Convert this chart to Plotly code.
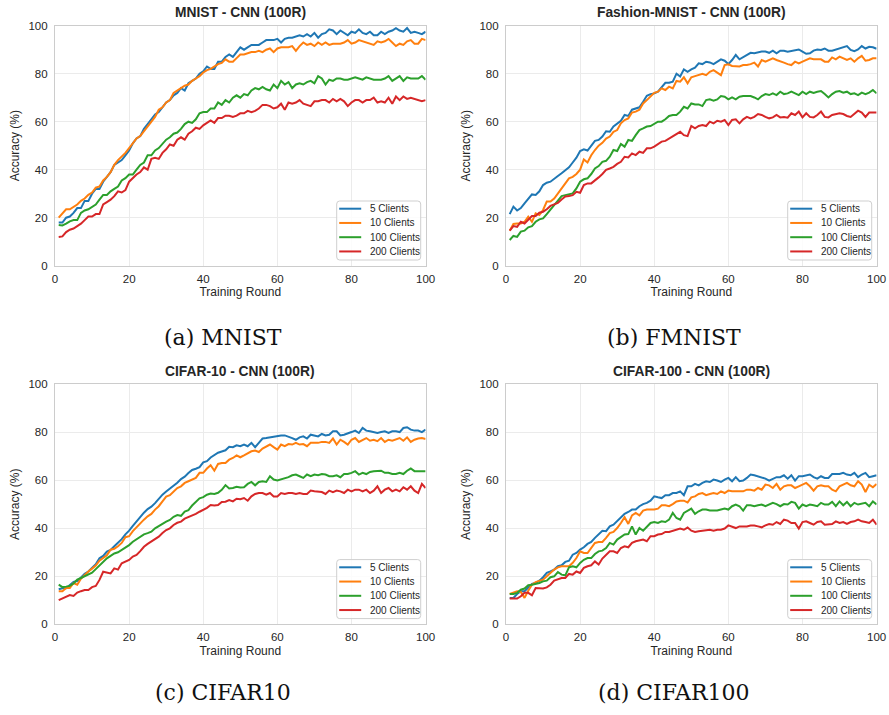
import plotly.graph_objects as go

rounds = list(range(1, 101))
series_names = ["5 Clients", "10 Clients", "100 Clients", "200 Clients"]
colors = ["#1f77b4", "#ff7f0e", "#2ca02c", "#d62728"]
titles = ["MNIST - CNN (100R)", "Fashion-MNIST - CNN (100R)", "CIFAR-10 - CNN (100R)", "CIFAR-100 - CNN (100R)"]
captions = ["(a) MNIST", "(b) FMNIST", "(c) CIFAR10", "(d) CIFAR100"]
tick_vals = [0, 20, 40, 60, 80, 100]
x_label = "Training Round"
y_label = "Accuracy (%)"

# ---------- MNIST ----------
mnist_5 = [18, 18, 20, 20.5, 22, 24, 24, 27, 27, 30, 32, 32, 35, 37, 39, 42, 43, 44, 46, 48,
           51, 53, 54, 57, 59, 61, 63, 64, 66, 68, 69, 71, 72, 74, 73, 76, 77, 78, 80, 81,
           83, 82, 82, 85, 85, 87, 88, 87, 89, 91, 90, 91, 92, 92, 92, 93, 94, 94, 94, 94.5,
           93, 94.5, 95, 95, 95.5, 96, 95.5, 96.5, 95.5, 97, 95, 96.5, 97, 98.5, 98, 96.5, 98, 97, 96, 97.5,
           97, 98.5, 97, 96.5, 97.5, 96, 96, 97.5, 96.5, 97.5, 98, 99, 98, 97.5, 99, 97, 97.5, 97, 96.5, 97.5]
mnist_10 = [20, 22, 23.5, 23.5, 24.5, 25.5, 27, 28, 29.5, 30.5, 32.5, 33, 35.5, 37, 39, 42, 44, 45.5, 47, 49,
            51, 53, 54, 56, 58, 60, 62, 65, 66, 68, 69, 72, 73, 74, 75, 75.5, 77, 78, 79, 80.5,
            81.5, 82, 83, 84, 84.5, 86, 85, 85, 86.5, 88, 88, 88.5, 89, 89, 89.5, 89, 90, 90.5, 89, 90.5,
            91, 91, 91, 91.5, 89.5, 91.5, 93, 92, 92.5, 91.5, 93, 92, 93, 92, 92.5, 92.5, 92.5, 93, 94, 92.5,
            93, 94, 93.5, 93, 92.5, 92, 93.5, 93, 93.5, 94.5, 93, 91.5, 92.5, 92, 93.5, 94, 92.5, 92.5, 94.5, 94]
mnist_100 = [17, 16.8, 17.5, 18.5, 19, 19, 22, 23, 23.5, 24.5, 25.5, 27.5, 29.5, 29.5, 31, 32, 33, 35.5, 36.5, 38,
             38, 40, 42, 43, 46, 46, 48, 49, 51, 52.5, 53.5, 55, 55.5, 57, 59, 60, 59.5, 61, 63.5, 64,
             64, 65.5, 65.5, 68, 67, 69, 68, 70, 71, 70, 71.5, 71, 73, 74, 73.5, 74.5, 73.5, 73, 75.5, 74,
             77, 75.5, 76.5, 74, 75.5, 76, 75.5, 76.5, 77, 76, 79, 78, 75.5, 77.5, 77, 78, 78, 77.5, 77.5, 78,
             78.5, 78, 77.5, 78.5, 78, 77.5, 77.5, 77.5, 78, 79, 77, 78, 79, 77, 78.5, 78, 78, 78, 79, 77.5]
mnist_200 = [12, 12.2, 14, 15, 15.5, 16.5, 17.5, 19, 20.5, 20.5, 21.5, 21.5, 25.5, 26.5, 27.5, 29, 31, 30.5, 31.5, 35,
             36.5, 38, 39, 41, 40, 44.5, 45, 44.5, 47, 48.5, 50.5, 50, 52.5, 53.5, 52.5, 55, 56, 57.5, 57, 58.5,
             59.5, 60.5, 59.5, 61.5, 61.5, 62.5, 62.5, 62, 62.5, 63.5, 63.5, 64.5, 64, 64.5, 65.5, 67, 67, 66.5, 65.5, 66,
             67.5, 65, 68, 67.5, 68, 69, 67.5, 67, 66.5, 68.5, 68.5, 69, 69, 68, 69.5, 68.5, 69.5, 68.5, 66.5, 68,
             69, 69, 68, 69, 69, 70, 68, 68.5, 68, 70, 67.5, 70.5, 69, 70.5, 69.5, 70, 69.5, 69, 68.5, 69]

# ---------- Fashion-MNIST ----------
fmnist_5 = [21.5, 24.6, 23, 24, 26, 28, 29.7, 29.5, 31, 33.6, 34.6, 35, 36.4, 37.4, 38.5, 39.9, 41, 43, 45, 47.8,
            48.5, 48, 50, 52, 52.4, 53.8, 56, 55.8, 58, 59.3, 60.4, 62.8, 62.4, 65, 65.5, 66, 68.3, 70.8, 71.5, 71.8,
            72.5, 74.6, 76.2, 76.2, 76.7, 80, 78.8, 81.8, 80.8, 81.8, 82.5, 84.3, 84, 85, 84.7, 84, 85, 86, 85.4, 84,
            85.7, 87.8, 86, 86.8, 87.8, 88.7, 88.5, 89, 89.2, 89.2, 88.7, 89.6, 88.5, 89.6, 89.6, 89.2, 89.4, 89.9, 90.1, 89.2,
            88.3, 88.5, 89.6, 90.1, 89.9, 90.5, 89.6, 89.6, 90.1, 90.6, 91, 91.5, 89.9, 89.4, 90.1, 91.5, 90.5, 91.2, 91, 90.4]
fmnist_10 = [14.6, 17.4, 17.6, 17.6, 18.3, 20.4, 18.3, 21.8, 21.1, 23.2, 26.7, 26.7, 28, 30, 32, 34.3, 36.4, 37, 38.2, 40,
             44.3, 43, 46, 48.2, 50, 51.2, 53, 53.8, 55.8, 56.5, 59.3, 60.7, 61.4, 63.8, 64.2, 65, 67.6, 69, 70.4, 72,
             72.5, 73.9, 73.2, 74.6, 73.9, 77, 76.7, 78.5, 76, 78.5, 79, 79.4, 80, 79.4, 80.8, 81.5, 80.4, 79.4, 83.6, 83.9,
             83.2, 83, 83, 83.6, 83.6, 84, 84.6, 83, 85.7, 85, 85.7, 86.4, 85.7, 85, 84.6, 84, 83.6, 85, 84.3, 85,
             85.7, 86.4, 86, 86, 86, 85, 85, 86.8, 86, 87.1, 86.4, 85.7, 86.4, 85, 86.4, 87.4, 85.4, 85.7, 86.4, 86.4]
fmnist_100 = [10.7, 12.4, 12, 14.2, 14.6, 16, 16.5, 18.3, 19.3, 19.7, 21.5, 23.5, 25.3, 27, 29, 29.4, 29.7, 30.1, 32.2, 35,
              36, 36.4, 38.2, 40.5, 41.5, 43.3, 43.7, 45.4, 48.2, 47.8, 50.7, 49.6, 52.4, 52, 54.4, 56.5, 57.2, 58, 58.2, 59,
              60, 60, 61, 62.4, 62.8, 62.8, 64.2, 66.2, 65.5, 67.6, 67.2, 67.2, 66.5, 69, 69.3, 68.8, 69.3, 70.7, 70.4, 69.3,
              70.1, 69.3, 70.4, 70.7, 70.7, 70.7, 70.1, 69.3, 70.7, 71.5, 71.1, 71.8, 71.1, 72.5, 71.5, 71.8, 72.5, 71.8, 71.1, 72.5,
              71.5, 72.5, 72, 72.5, 72.8, 71.5, 70.1, 71.5, 72.5, 72.8, 72.1, 72.5, 71.5, 71.8, 71.1, 72.1, 71.5, 72.1, 73.2, 71.8]
fmnist_200 = [14.6, 16.5, 16.2, 18.3, 17.6, 19.3, 20.7, 20.7, 22.1, 22.5, 23.5, 24.9, 25.7, 26.2, 27.6, 28.8, 29, 29.4, 30.8, 30.4,
              33.6, 34.3, 34.3, 35.4, 36.8, 38.2, 39.9, 40.5, 41.2, 42.4, 43.3, 45.4, 45.1, 46.8, 46.1, 47.5, 47, 48.9, 48.9, 49.6,
              50.7, 51.7, 52, 53, 53.8, 54.9, 55.8, 54.4, 54, 58.2, 57.2, 58.2, 58.6, 58.2, 60, 59.3, 60.4, 60, 60.7, 58.6,
              60.7, 61, 59.3, 61, 62, 61.4, 62, 63.2, 62.8, 62, 61.4, 61.8, 62.8, 61.8, 62, 61.7, 63.5, 62.8, 64.2, 61.8,
              63.5, 62, 61.8, 62.8, 64.2, 62, 61.8, 62.8, 63.2, 63.5, 63.2, 62.4, 62, 63.5, 64.6, 63.8, 62, 63.8, 63.8, 63.8]

# ---------- CIFAR-10 ----------
cifar10_5 = [14.6, 15, 15, 16.5, 17.7, 18, 19.5, 21, 22, 23.5, 25, 27.5, 28.5, 30.3, 31, 32.5, 34, 35.5, 37.5, 39,
             41, 43, 45, 46.5, 48, 49, 50.5, 52.5, 54, 55.3, 56.5, 57.5, 59, 60.5, 61.5, 63, 64.3, 64.8, 65.5, 67.5,
             68, 69.5, 70.5, 71.5, 72, 72.5, 74, 73.8, 74.6, 74.2, 74.9, 74.2, 75.6, 73.8, 75.6, 77.4, 77.6, 77.9, 78, 78.3,
             78.7, 78.7, 78.3, 77.6, 76.9, 77.9, 78.3, 77.4, 79, 78.7, 78.3, 79.3, 78.7, 79, 80.4, 80.4, 78.7, 79, 79.7, 80.1,
             80.7, 79.7, 81.8, 80.7, 80.4, 80.1, 79.7, 80.1, 80.4, 79.7, 80.4, 80.4, 80.1, 81.8, 82.1, 81.1, 80.7, 80.7, 80.1, 81.1]
cifar10_10 = [13.75, 13.75, 15.1, 15.1, 17.2, 16.5, 19, 20.7, 22, 23.2, 24.5, 26.5, 27.5, 28.8, 31.1, 31.5, 32.5, 33.9, 36.3, 36.7,
              38.8, 40.5, 42, 43.6, 45, 46, 47.8, 49.2, 51.2, 53.2, 53.8, 55.4, 56.8, 57.5, 58.9, 59.6, 60.3, 61, 63.1, 63.1,
              64.9, 66.3, 64, 66.8, 67.2, 67.2, 68.6, 69.3, 70.4, 69.6, 70.4, 71.4, 72.1, 72.4, 71.8, 73.2, 74.2, 74.9, 73.8, 72.8,
              74.9, 74.2, 75.1, 74.9, 75.6, 74.9, 75.1, 74.2, 75.6, 75.6, 75.6, 76, 76, 75.6, 77.4, 74.9, 76.9, 76, 74.9, 76.9,
              77.6, 76, 76.9, 77.6, 76.5, 76.9, 76.3, 77.6, 76, 76.9, 76.5, 76.9, 77.6, 76.5, 77.9, 76, 76.9, 77.4, 77.6, 77.2]
cifar10_100 = [16.5, 15.5, 15.7, 16, 17, 18.6, 19.3, 20, 20.5, 21.5, 23, 24.5, 26, 27.5, 28.5, 29.5, 30, 31, 32, 33,
               34.4, 35.5, 36.5, 37.5, 38, 38.6, 40, 41, 42, 42.8, 43.5, 44.8, 45.5, 45.2, 47, 47.6, 49.5, 51, 52.5, 53,
               54, 54.5, 54.3, 54.8, 56, 58, 56.6, 56.8, 57.3, 57, 57.1, 58.5, 59.3, 57.9, 59.3, 59.6, 59.3, 61.7, 60.3, 59.9,
               60.3, 61, 61.3, 62.1, 62.4, 61.7, 61, 62.4, 61.7, 62.4, 62.1, 62.6, 62.4, 61.7, 61.7, 62.1, 61.3, 62.6, 62.6, 63.1,
               63.8, 62.4, 63.1, 62.6, 63.5, 63.8, 64, 64, 63.1, 63.1, 62.6, 62.6, 63.1, 62.6, 64, 64.9, 63.8, 63.8, 64, 63.8]
cifar10_200 = [10.1, 10.7, 11.3, 12.2, 11.8, 13.2, 13.8, 14.3, 14.3, 15.5, 16, 18.5, 21.9, 21.5, 21.2, 23.3, 22.8, 25.4, 26, 26.8,
               28.2, 28.9, 30.5, 32.3, 33.5, 34.4, 35.5, 36.5, 38, 39.3, 40, 41.4, 42.3, 42.8, 44, 44.6, 45.5, 46, 46.9, 47.6,
               48.5, 49.7, 49.5, 49.7, 51, 51.1, 51.8, 51.2, 52.3, 52.1, 52.6, 51.5, 53.3, 54.3, 54.7, 54.7, 54, 54.7, 53.3, 53.3,
               54.7, 54.3, 54.7, 54.7, 54.3, 54.7, 54.3, 54.3, 55.7, 55.4, 55.4, 55.1, 54.3, 55.7, 55.1, 55.7, 55.4, 54.7, 56.1, 55.4,
               56.1, 56.1, 55.4, 56.1, 54.7, 55.7, 57.5, 54.7, 56.1, 56.8, 55.4, 56.1, 55.4, 57.1, 56.1, 57.5, 55.7, 54.7, 58.5, 56.8]

# ---------- CIFAR-100 ----------
cifar100_5 = [11, 11, 12.6, 13.75, 13.75, 15.4, 16.8, 17.2, 18.2, 19.6, 21.4, 22, 22.8, 24.2, 24.6, 26, 26.5, 29, 29.7, 31.1,
              32.1, 33.5, 34.3, 36, 37.4, 39, 38.8, 40.8, 41.5, 42.9, 44.3, 46, 46.8, 47.8, 47.8, 49.2, 50.1, 50.6, 51.5, 53.3,
              52.9, 52.6, 53.8, 53.8, 54.7, 54.7, 55.4, 53.8, 57.5, 57.5, 58.5, 57.9, 58.9, 59.6, 59.3, 60.3, 59.9, 59.3, 60.3, 61,
              59.6, 61.3, 59.6, 59.9, 61, 62.4, 62.1, 61.7, 61.3, 60.7, 59.9, 60.7, 61.3, 61.3, 62.1, 60.7, 62.1, 59.9, 61.7, 61.7,
              62.1, 62.4, 61.3, 60.7, 61.7, 61, 61, 62.6, 62.6, 62.6, 63.1, 62.4, 62.1, 63.1, 61.3, 62.4, 63.1, 61.3, 61.7, 62.1]
cifar100_10 = [12.6, 13.1, 13.75, 13.5, 11, 14, 16.5, 17.6, 18.2, 18.6, 20, 21.4, 22.8, 23.75, 24.2, 24.2, 24.2, 25.6, 27.6, 30.4,
               29.7, 29.7, 31.8, 33.9, 34.3, 34.3, 36, 38, 38.5, 40.1, 42.2, 44.6, 41.8, 45.4, 46.4, 45.4, 47.4, 47.8, 47.8, 47.8,
               48.2, 49.6, 49.6, 49.2, 50.1, 51.2, 51.5, 51.5, 50.8, 52.9, 53.3, 54.3, 54.7, 53.8, 54.3, 54.7, 54.3, 55.4, 54.7, 55.7,
               55.4, 55.4, 55.7, 55.4, 56.1, 56.1, 55.7, 56.8, 56.1, 58.2, 57.9, 56.8, 58.5, 56.1, 57.5, 57.9, 57.9, 56.8, 57.5, 58.2,
               58.9, 57.5, 55.7, 57.5, 57.9, 57.5, 57.5, 56.1, 55.4, 57.5, 58.2, 58.9, 57.9, 57.5, 59.6, 58.2, 55.1, 58.2, 57.1, 58.5]
cifar100_100 = [12.6, 12.6, 13.1, 14.4, 14.9, 16.3, 16.5, 16.8, 17.2, 17.9, 18.2, 19.6, 20, 21.8, 20.7, 20.4, 23.75, 24.2, 23.75, 25.6,
                26.9, 27.6, 27.6, 29.3, 30.4, 30.7, 31.8, 33.9, 33.2, 35.3, 36.3, 37.4, 37.6, 40.8, 37.4, 40.1, 39, 40.4, 42.2, 42.6,
                42.2, 42.9, 42.6, 43.6, 46.4, 44.3, 43.6, 46.4, 47.4, 48.2, 46, 47.1, 47.8, 47.8, 47.4, 47.4, 47.4, 47.8, 48.2, 47.8,
                49.2, 49.9, 49.2, 47.4, 49.6, 49.6, 49.2, 49.6, 49.9, 49.2, 49.9, 50.6, 50.1, 49.2, 50.1, 49.9, 51, 50.6, 48.2, 49.9,
                49.2, 49.9, 49.6, 49.2, 50.6, 49.9, 49.9, 51, 49.2, 51.2, 49.6, 51, 49.2, 50.6, 49.9, 50.1, 50.6, 49.2, 51.2, 49.9]
cifar100_200 = [10.7, 10.7, 10.7, 11.7, 13.1, 13.1, 12.1, 15.1, 14.9, 14.9, 15.4, 16.5, 18.2, 18.6, 19.3, 19.3, 21, 20.7, 22, 21.4,
                23.5, 24.2, 24.6, 26.2, 24.9, 27.4, 29, 30.4, 30.4, 29.7, 31.8, 32.5, 32.1, 33.9, 34.6, 34.9, 35.3, 34.6, 36.7, 36.7,
                37.4, 37.6, 38.5, 38.5, 39, 39.4, 39.9, 39.4, 40.3, 39, 38.5, 38.8, 39, 39, 39.4, 39, 39.4, 39.4, 39.9, 41.2,
                40.8, 40.1, 40.8, 40.8, 40.8, 41.2, 41.2, 40.8, 40.4, 41.2, 41.8, 41.5, 42.6, 41.8, 43.6, 43.2, 42.2, 42.2, 39.9, 42.6,
                42.9, 42.2, 41.5, 42.6, 42.9, 41.5, 41.8, 41.8, 42.9, 42.2, 42.6, 41.8, 42.6, 42.9, 43.6, 42.9, 42.6, 42.2, 43.6, 41.5]

panels = [
    [mnist_5, mnist_10, mnist_100, mnist_200],
    [fmnist_5, fmnist_10, fmnist_100, fmnist_200],
    [cifar10_5, cifar10_10, cifar10_100, cifar10_200],
    [cifar100_5, cifar100_10, cifar100_100, cifar100_200],
]

W, H = 889, 715
# plot-area pixel boxes (left, right, top, bottom)
boxes = [
    (55.0, 425.6, 25.7, 265.7),
    (506.0, 876.6, 25.7, 265.7),
    (55.0, 425.6, 384.3, 624.3),
    (506.0, 876.6, 384.3, 624.3),
]
caption_y = [337, 692]


def px(x):
    return x / W


def py(y):
    return 1 - y / H


FONT = "Liberation Sans, Arial, sans-serif"
TXT = "#262626"

fig = go.Figure()
layout = dict(
    width=W, height=H,
    margin=dict(l=0, r=0, t=0, b=0, autoexpand=False),
    paper_bgcolor="white", plot_bgcolor="white",
    font=dict(family=FONT, size=11, color=TXT),
    showlegend=False,
    annotations=[], shapes=[],
)

for i, (series, box) in enumerate(zip(panels, boxes)):
    n = i + 1
    xa = "x" if n == 1 else f"x{n}"
    ya = "y" if n == 1 else f"y{n}"
    for name, vals, col in zip(series_names, series, colors):
        fig.add_trace(go.Scatter(
            x=rounds, y=vals, mode="lines", name=name,
            line=dict(color=col, width=2),
            xaxis=xa, yaxis=ya, hoverinfo="x+y+name",
        ))
    l, r, t, b = box
    axis_common = dict(
        range=[0, 100], tickvals=tick_vals, showgrid=True, gridcolor="#ebebeb", gridwidth=1,
        showline=True, linecolor="#cccccc", linewidth=1.2, mirror=True, zeroline=False,
        ticks="", tickfont=dict(family=FONT, size=11.5, color=TXT), fixedrange=True,
        automargin=False,
    )
    layout["xaxis" if n == 1 else f"xaxis{n}"] = dict(
        axis_common, domain=[px(l), px(r)], anchor=ya,
        title=dict(text=x_label, font=dict(family=FONT, size=12, color=TXT), standoff=4),
        ticklabelstandoff=2,
    )
    layout["yaxis" if n == 1 else f"yaxis{n}"] = dict(
        axis_common, domain=[py(b), py(t)], anchor=xa,
        title=dict(text=y_label, font=dict(family=FONT, size=12, color=TXT), standoff=6),
        ticklabelstandoff=4,
    )
    # title
    layout["annotations"].append(dict(
        text=f"<b>{titles[i]}</b>", x=px((l + r) / 2), y=py(t - 13.2),
        xref="paper", yref="paper", xanchor="center", yanchor="middle", showarrow=False,
        font=dict(family=FONT, size=13.8, color=TXT),
    ))
    # caption
    layout["annotations"].append(dict(
        text=captions[i], x=px((l + r) / 2 - 17), y=py(caption_y[i // 2]),
        xref="paper", yref="paper", xanchor="center", yanchor="middle", showarrow=False,
        font=dict(family="DejaVu Serif, Liberation Serif, serif", size=22, color="#111111"),
    ))
    # legend box (rounded)
    bx0, bx1 = r - 88.9, r - 4.9
    by0, by1 = b - 64.7, b - 5.7
    rad = 3
    path = (f"M {px(bx0 + rad)},{py(by0)} L {px(bx1 - rad)},{py(by0)} "
            f"Q {px(bx1)},{py(by0)} {px(bx1)},{py(by0 + rad)} "
            f"L {px(bx1)},{py(by1 - rad)} Q {px(bx1)},{py(by1)} {px(bx1 - rad)},{py(by1)} "
            f"L {px(bx0 + rad)},{py(by1)} Q {px(bx0)},{py(by1)} {px(bx0)},{py(by1 - rad)} "
            f"L {px(bx0)},{py(by0 + rad)} Q {px(bx0)},{py(by0)} {px(bx0 + rad)},{py(by0)} Z")
    layout["shapes"].append(dict(
        type="path", path=path, xref="paper", yref="paper", layer="above",
        fillcolor="rgba(255,255,255,0.85)", line=dict(color="#cfcfcf", width=1),
    ))
    for k, (name, col) in enumerate(zip(series_names, colors)):
        yc = b - 57 + k * 14.25
        layout["shapes"].append(dict(
            type="line", xref="paper", yref="paper", layer="above",
            x0=px(bx0 + 2.5), x1=px(bx0 + 24.5), y0=py(yc), y1=py(yc),
            line=dict(color=col, width=2),
        ))
        layout["annotations"].append(dict(
            text=name, x=px(bx0 + 31), y=py(yc), xref="paper", yref="paper",
            xanchor="left", yanchor="middle", showarrow=False,
            font=dict(family=FONT, size=10, color=TXT),
        ))

fig.update_layout(**layout)
fig.write_html("out.html")
